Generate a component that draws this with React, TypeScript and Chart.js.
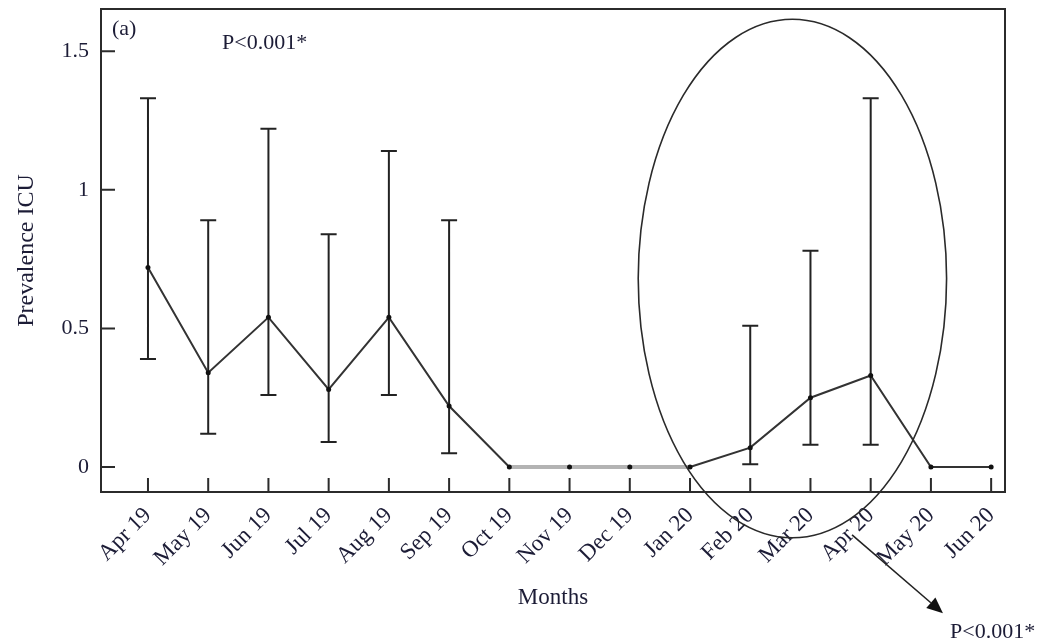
import React, { useEffect, useRef } from "react";
import { Chart, registerables } from "chart.js";

Chart.register(...registerables);

const months = [
  "Apr 19", "May 19", "Jun 19", "Jul 19", "Aug 19", "Sep 19", "Oct 19",
  "Nov 19", "Dec 19", "Jan 20", "Feb 20", "Mar 20", "Apr 20", "May 20", "Jun 20",
];
const prevalence = [0.72, 0.34, 0.54, 0.28, 0.54, 0.22, 0, 0, 0, 0, 0.07, 0.25, 0.33, 0, 0];
const upperCI = [1.33, 0.89, 1.22, 0.84, 1.14, 0.89, null, null, null, null, 0.51, 0.78, 1.33, null, null];
const lowerCI = [0.39, 0.12, 0.26, 0.09, 0.26, 0.05, null, null, null, null, 0.01, 0.08, 0.08, null, null];
const yTickValues = [0, 0.5, 1, 1.5];

// annotation (in data units)
const ellipseCenter = { x: 10.7, y: 0.68 };
const ellipseRadius = { x: 2.56, y: 0.935 };
const arrowFrom = { x: 11.69, y: -0.245 };
const arrowTo = { x: 13.2, y: -0.527 };
const greyFrom = 6;
const greyTo = 9;

const FONT = "'Liberation Serif', 'Times New Roman', serif";
const TEXT = "#1c1c36";

const overlay = {
  id: "overlay",
  beforeDatasetsDraw(chart: any) {
    const { ctx, chartArea: a, scales } = chart;
    const xs = scales.x, ys = scales.y;
    ctx.save();
    // border
    ctx.strokeStyle = "#2b2b2b";
    ctx.lineWidth = 2;
    ctx.strokeRect(a.left, a.top, a.right - a.left, a.bottom - a.top);
    // inward ticks
    ctx.lineWidth = 2;
    ctx.beginPath();
    xs.ticks.forEach((t: any) => {
      const px = xs.getPixelForValue(t.value);
      ctx.moveTo(px, a.bottom);
      ctx.lineTo(px, a.bottom - 14);
    });
    ys.ticks.forEach((t: any) => {
      const py = ys.getPixelForValue(t.value);
      ctx.moveTo(a.left, py);
      ctx.lineTo(a.left + 14, py);
    });
    ctx.stroke();
    // error bars
    ctx.strokeStyle = "#222";
    ctx.lineWidth = 2;
    ctx.beginPath();
    prevalence.forEach((_, i) => {
      const hi = upperCI[i], lo = lowerCI[i];
      if (hi == null || lo == null) return;
      const px = xs.getPixelForValue(i);
      const pHi = ys.getPixelForValue(hi);
      const pLo = ys.getPixelForValue(lo);
      ctx.moveTo(px, pHi); ctx.lineTo(px, pLo);
      ctx.moveTo(px - 8, pHi); ctx.lineTo(px + 8, pHi);
      ctx.moveTo(px - 8, pLo); ctx.lineTo(px + 8, pLo);
    });
    ctx.stroke();
    ctx.restore();
  },
  afterDraw(chart: any) {
    const { ctx, scales } = chart;
    const xs = scales.x, ys = scales.y;
    ctx.save();
    // ellipse
    const cx = xs.getPixelForValue(ellipseCenter.x);
    const cy = ys.getPixelForValue(ellipseCenter.y);
    const rx = Math.abs(xs.getPixelForValue(ellipseCenter.x + ellipseRadius.x) - cx);
    const ry = Math.abs(ys.getPixelForValue(ellipseCenter.y + ellipseRadius.y) - cy);
    ctx.strokeStyle = "#2a2a2a";
    ctx.lineWidth = 1.6;
    ctx.beginPath();
    ctx.ellipse(cx, cy, rx, ry, 0, 0, Math.PI * 2);
    ctx.stroke();
    // arrow
    const x0 = xs.getPixelForValue(arrowFrom.x), y0 = ys.getPixelForValue(arrowFrom.y);
    const x1 = xs.getPixelForValue(arrowTo.x), y1 = ys.getPixelForValue(arrowTo.y);
    const ang = Math.atan2(y1 - y0, x1 - x0);
    const hl = 16, hw = 7;
    const bx = x1 - hl * Math.cos(ang), by = y1 - hl * Math.sin(ang);
    ctx.strokeStyle = "#222";
    ctx.lineWidth = 1.6;
    ctx.beginPath();
    ctx.moveTo(x0, y0);
    ctx.lineTo(bx, by);
    ctx.stroke();
    ctx.fillStyle = "#111";
    ctx.beginPath();
    ctx.moveTo(x1, y1);
    ctx.lineTo(bx + hw * Math.sin(ang), by - hw * Math.cos(ang));
    ctx.lineTo(bx - hw * Math.sin(ang), by + hw * Math.cos(ang));
    ctx.closePath();
    ctx.fill();
    // texts
    ctx.fillStyle = TEXT;
    ctx.font = `22px ${FONT}`;
    ctx.textBaseline = "middle";
    ctx.textAlign = "left";
    ctx.fillText("(a)", 112, 29);
    ctx.fillText("P<0.001*", 222, 43);
    ctx.fillText("P<0.001*", 950, 632);
    ctx.restore();
  },
};

export default function App() {
  const ref = useRef<HTMLCanvasElement>(null);
  useEffect(() => {
    const chart = new Chart(ref.current!, {
      type: "line",
      data: {
        datasets: [
          {
            data: prevalence.map((v, i) => ({ x: i, y: v })),
            borderColor: "#333",
            borderWidth: 2,
            pointRadius: 2.5,
            pointBackgroundColor: "#111",
            pointBorderColor: "#111",
            pointBorderWidth: 0,
            tension: 0,
            segment: {
              borderColor: (c: any) =>
                c.p0DataIndex >= greyFrom && c.p1DataIndex <= greyTo ? "#b3b3b3" : "#333",
              borderWidth: (c: any) =>
                c.p0DataIndex >= greyFrom && c.p1DataIndex <= greyTo ? 4 : 2,
            },
          },
        ],
      },
      options: {
        animation: false,
        responsive: false,
        devicePixelRatio: 1,
        layout: { padding: { top: 9, right: 41, left: 0, bottom: 0 } },
        plugins: { legend: { display: false }, tooltip: { enabled: false } },
        scales: {
          x: {
            type: "linear",
            min: -0.78,
            max: 14.23,
            grid: { display: false, drawTicks: false },
            border: { display: false },
            afterFit: (s: any) => {
              s.height = 150;
              s.paddingLeft = 0; s.paddingRight = 0; s.paddingTop = 0; s.paddingBottom = 0;
            },
            afterBuildTicks: (s: any) => {
              s.ticks = months.map((_, i) => ({ value: i }));
            },
            ticks: {
              autoSkip: false,
              maxRotation: 45,
              minRotation: 45,
              padding: 10,
              color: TEXT,
              font: { family: FONT, size: 23 },
              callback: (v: any) => months[v] ?? "",
            },
            title: {
              display: true,
              text: "Months",
              color: TEXT,
              font: { family: FONT, size: 23 },
              padding: { top: 0, bottom: 30 },
            },
          },
          y: {
            min: -0.09,
            max: 1.652,
            grid: { display: false, drawTicks: false },
            border: { display: false },
            afterFit: (s: any) => {
              s.width = 101;
              s.paddingLeft = 0; s.paddingRight = 0; s.paddingTop = 0; s.paddingBottom = 0;
            },
            afterBuildTicks: (s: any) => {
              s.ticks = yTickValues.map((v) => ({ value: v }));
            },
            ticks: {
              padding: 12,
              color: TEXT,
              font: { family: FONT, size: 22 },
              callback: (v: any) => String(Math.round(v * 10) / 10),
            },
            title: {
              display: true,
              text: "Prevalence ICU",
              color: TEXT,
              font: { family: FONT, size: 24 },
              padding: { top: 12, bottom: 0 },
            },
          },
        },
      },
      plugins: [overlay],
    } as any);
    return () => chart.destroy();
  }, []);
  return (
    <div style={{ position: "absolute", left: 0, top: 0, width: 1046, height: 642, background: "#fff" }}>
      <canvas ref={ref} width={1046} height={642} />
    </div>
  );
}
